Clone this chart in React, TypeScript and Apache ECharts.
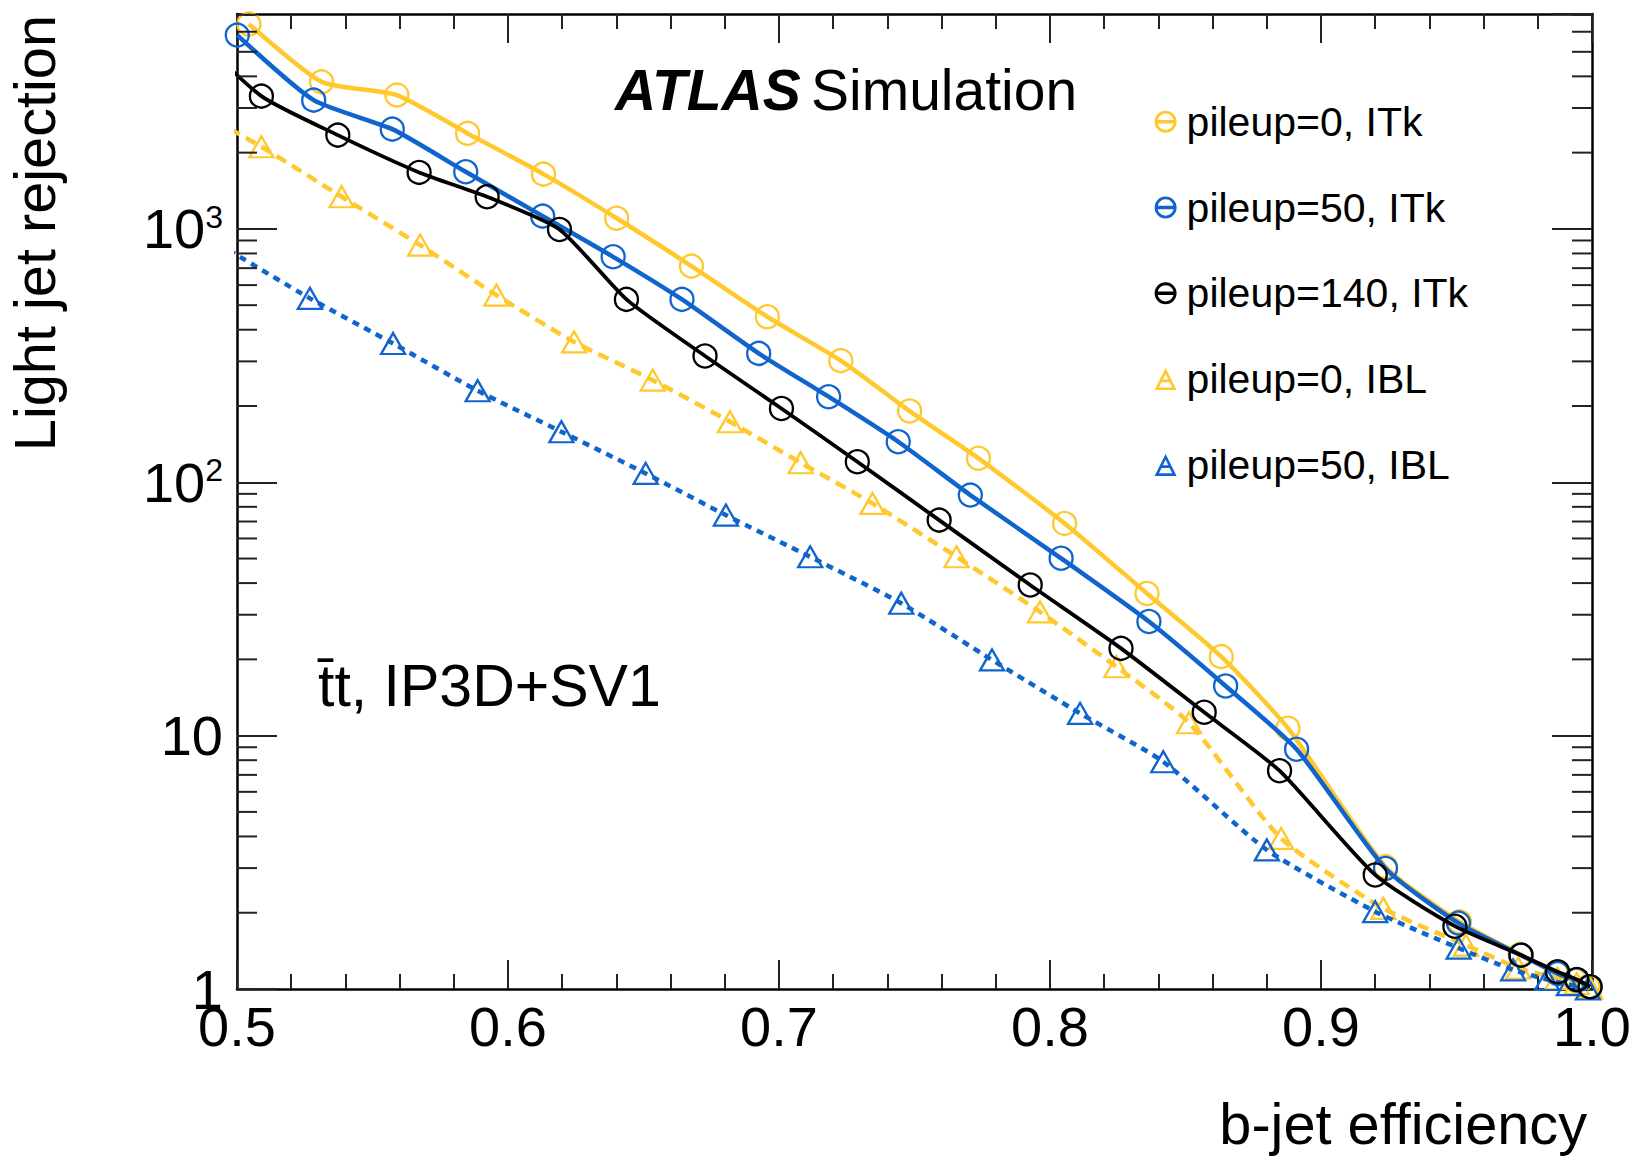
import React, { useEffect, useRef } from 'react';
import * as echarts from 'echarts';

// ---- data ----
const legendNames = ['pileup=0, ITk', 'pileup=50, ITk', 'pileup=140, ITk', 'pileup=0, IBL', 'pileup=50, IBL'];

const effITk0 = [0.5044, 0.5312, 0.559, 0.5851, 0.6131, 0.6401, 0.6677, 0.6957, 0.7228, 0.7482, 0.7736, 0.8054, 0.8358, 0.8632, 0.8878, 0.9238, 0.9511, 0.9735, 0.9868, 0.9938, 0.9985];
const rejITk0 = [6430, 3805, 3374, 2382, 1645, 1102, 713, 450, 302, 191, 124.3, 68.8, 36.4, 20.5, 10.7, 3.04, 1.84, 1.37, 1.16, 1.08, 1.02];

const effITk50 = [0.5001, 0.5283, 0.5573, 0.5844, 0.6128, 0.6388, 0.6642, 0.6925, 0.7183, 0.744, 0.7706, 0.8041, 0.8365, 0.8648, 0.891, 0.9238, 0.9507, 0.9738, 0.9873, 0.9944, 0.9993];
const rejITk50 = [5820, 3223, 2476, 1680, 1123, 776, 527, 322.6, 217.6, 144.5, 89, 50.1, 28.2, 15.7, 8.83, 2.99, 1.82, 1.36, 1.15, 1.085, 1.02];

const effITk140 = [0.481, 0.509, 0.5372, 0.5672, 0.5923, 0.619, 0.6437, 0.6727, 0.7009, 0.7289, 0.7591, 0.7927, 0.8262, 0.8569, 0.8847, 0.92, 0.9494, 0.9738, 0.9873, 0.9944, 0.9993];
const rejITk140 = [6370, 3342, 2345, 1671, 1339, 995, 527, 315, 195.6, 120.5, 70.9, 39.3, 22.1, 12.36, 7.27, 2.82, 1.77, 1.36, 1.17, 1.09, 1.02];

const effIBL0 = [0.48, 0.509, 0.5386, 0.5676, 0.5957, 0.6244, 0.6534, 0.6819, 0.708, 0.7345, 0.7655, 0.7963, 0.8245, 0.8513, 0.8853, 0.923, 0.9535, 0.9728, 0.9873, 0.9944, 0.9993];
const rejIBL0 = [3150, 2110, 1339, 863, 548, 358, 253, 173.3, 119.4, 82.5, 50.8, 30.8, 18.7, 11.24, 3.93, 2.08, 1.49, 1.21, 1.1, 1.05, 1.01];

const effIBL50 = [0.497, 0.5269, 0.5576, 0.5888, 0.6197, 0.6508, 0.6804, 0.7115, 0.7451, 0.7786, 0.8111, 0.8418, 0.88, 0.92, 0.9508, 0.9709, 0.9834, 0.9915, 0.9985];
const rejIBL50 = [824, 532, 353, 229.7, 158.3, 108.4, 74.2, 50.8, 33.3, 19.9, 12.24, 7.89, 3.54, 2.02, 1.45, 1.19, 1.09, 1.04, 1.0];

const yMinorTicks = [2, 3, 4, 5, 6, 7, 8, 9, 20, 30, 40, 50, 60, 70, 80, 90, 200, 300, 400, 500, 600, 700, 800, 900, 2000, 3000, 4000, 5000, 6000, 7000];

const X_MIN = 0.5;
const X_MAX = 1.0;
const Y_MIN = 1;
const Y_MAX = 7050;

// ---- styling ----
const FONT = "'Liberation Sans', Arial, Helvetica, sans-serif";
const YELLOW = '#FFC82D';
const BLUE = '#0F64CD';
const BLACK = '#000000';
const TICK = '#222222';
const TITLE_SIZE = 57.7;

const CIRCLE_ICON =
  'path://M0,50 A50,50 0 0,1 100,50 A50,50 0 0,1 0,50 Z M13,50 A37,37 0 0,0 87,50 A37,37 0 0,0 13,50 Z M13,42 L87,42 L87,58 L13,58 Z';
const TRIANGLE_ICON =
  'path://M50,0 L100,100 L0,100 Z M50,27 L20,88 L80,88 Z M24,52 L76,52 L76,64 L24,64 Z';

function makeLine(name: string, xs: number[], ys: number[], color: string, symbol: string, dash: any, width: number, z: number) {
  return {
    type: 'line',
    name,
    data: xs.map((x, i) => [x, ys[i]]),
    symbol,
    symbolSize: symbol === 'circle' ? 23 : [24, 21],
    showSymbol: true,
    smooth: 0.2,
    clip: true,
    z,
    lineStyle: { color, width, type: dash },
    itemStyle: { color: 'rgba(255,255,255,0)', borderColor: color, borderWidth: 2.3 },
    emphasis: { disabled: true },
  };
}

function yLabel(v: number) {
  const n = Math.round(Math.log10(v));
  if (Math.abs(Math.pow(10, n) - v) / v > 1e-6) return '';
  if (n === 0) return '1';
  if (n === 1) return '10';
  return '10{sup|' + n + '}';
}

const axisLineStyle = { color: BLACK, width: 2.5 };

const option: any = {
  animation: false,
  backgroundColor: '#ffffff',
  grid: { left: 237, right: 44, top: 14, bottom: 167, containLabel: false, outerBoundsMode: 'none' },
  xAxis: [
    {
      type: 'value',
      min: X_MIN,
      max: X_MAX,
      interval: 0.1,
      position: 'bottom',
      axisLine: { show: true, onZero: false, lineStyle: axisLineStyle },
      axisTick: { show: true, inside: true, length: 29, lineStyle: { color: TICK, width: 2 } },
      minorTick: { show: true, splitNumber: 5, length: 15, lineStyle: { color: TICK, width: 2 } },
      splitLine: { show: false },
      minorSplitLine: { show: false },
      axisLabel: {
        margin: 9,
        fontFamily: FONT,
        fontSize: 56,
        lineHeight: 56,
        color: BLACK,
        showMinLabel: true,
        showMaxLabel: true,
        formatter: (v: number) => v.toFixed(1),
      },
      name: 'b-jet efficiency',
      nameLocation: 'end',
      nameGap: -5,
      nameMoveOverlap: false,
      nameTextStyle: {
        fontFamily: FONT,
        fontSize: TITLE_SIZE,
        lineHeight: 56,
        color: BLACK,
        align: 'right',
        verticalAlign: 'top',
        padding: [106.5, 0, 0, 0],
      },
    },
    {
      type: 'value',
      min: X_MIN,
      max: X_MAX,
      interval: 0.1,
      position: 'top',
      axisLine: { show: true, onZero: false, lineStyle: axisLineStyle },
      axisTick: { show: true, inside: true, length: 29, lineStyle: { color: TICK, width: 2 } },
      minorTick: { show: true, splitNumber: 5, length: 15, lineStyle: { color: TICK, width: 2 } },
      splitLine: { show: false },
      axisLabel: { show: false },
    },
  ],
  yAxis: [
    {
      type: 'log',
      logBase: 10,
      min: Y_MIN,
      max: Y_MAX,
      position: 'left',
      axisLine: { show: true, lineStyle: axisLineStyle },
      axisTick: { show: true, inside: true, length: 40, lineStyle: { color: TICK, width: 2 } },
      minorTick: { show: false },
      splitLine: { show: false },
      axisLabel: {
        margin: 14,
        fontFamily: FONT,
        fontSize: 56,
        lineHeight: 56,
        color: BLACK,
        showMaxLabel: false,
        formatter: yLabel,
        rich: {
          sup: { fontFamily: FONT, fontSize: 32, lineHeight: 32, verticalAlign: 'top', color: BLACK },
        },
      },
      name: 'Light jet rejection',
      nameLocation: 'end',
      nameRotate: 90,
      nameGap: -1,
      nameMoveOverlap: false,
      nameTextStyle: {
        fontFamily: FONT,
        fontSize: TITLE_SIZE,
        lineHeight: 56,
        color: BLACK,
        align: 'right',
        verticalAlign: 'bottom',
        padding: [0, 0, 174, 0],
      },
    },
    {
      type: 'log',
      logBase: 10,
      min: Y_MIN,
      max: Y_MAX,
      position: 'right',
      axisLine: { show: true, lineStyle: axisLineStyle },
      axisTick: { show: true, inside: true, length: 40, lineStyle: { color: TICK, width: 2 } },
      minorTick: { show: false },
      splitLine: { show: false },
      axisLabel: { show: false },
    },
  ],
  legend: {
    orient: 'vertical',
    left: 1154.6,
    top: 98.7,
    padding: 0,
    itemGap: 39.8,
    itemWidth: 22,
    itemHeight: 22,
    selectedMode: false,
    textStyle: { fontFamily: FONT, fontSize: 41, lineHeight: 46, color: BLACK, padding: [0, 0, 0, 5] },
    data: [
      { name: legendNames[0], icon: CIRCLE_ICON, itemStyle: { color: YELLOW, borderWidth: 0 } },
      { name: legendNames[1], icon: CIRCLE_ICON, itemStyle: { color: BLUE, borderWidth: 0 } },
      { name: legendNames[2], icon: CIRCLE_ICON, itemStyle: { color: BLACK, borderWidth: 0 } },
      { name: legendNames[3], icon: TRIANGLE_ICON, itemStyle: { color: YELLOW, borderWidth: 0 } },
      { name: legendNames[4], icon: TRIANGLE_ICON, itemStyle: { color: BLUE, borderWidth: 0 } },
    ],
  },
  series: [
    makeLine(legendNames[0], effITk0, rejITk0, YELLOW, 'circle', 'solid', 4.5, 3),
    makeLine(legendNames[3], effIBL0, rejIBL0, YELLOW, 'triangle', [11, 7], 4.5, 3),
    makeLine(legendNames[4], effIBL50, rejIBL50, BLUE, 'triangle', [7, 6], 4.5, 4),
    makeLine(legendNames[1], effITk50, rejITk50, BLUE, 'circle', 'solid', 4.5, 5),
    makeLine(legendNames[2], effITk140, rejITk140, BLACK, 'circle', 'solid', 3.8, 6),
    {
      type: 'custom',
      name: 'y minor ticks',
      silent: true,
      clip: false,
      z: 8,
      xAxisIndex: 0,
      yAxisIndex: 0,
      data: yMinorTicks.map((v) => [X_MIN, v]),
      renderItem: (params: any, api: any) => {
        const v = api.value(1);
        const l = api.coord([X_MIN, v]);
        const r = api.coord([X_MAX, v]);
        const st = { stroke: TICK, lineWidth: 2 };
        return {
          type: 'group',
          children: [
            { type: 'line', shape: { x1: l[0], y1: l[1], x2: l[0] + 20, y2: l[1] }, style: st },
            { type: 'line', shape: { x1: r[0] - 20, y1: r[1], x2: r[0], y2: r[1] }, style: st },
          ],
        };
      },
    },
  ],
  graphic: [
    {
      type: 'text',
      x: 615,
      y: 90.3,
      style: { text: 'ATLAS', fontFamily: FONT, fontSize: 57, fontWeight: 'bold', fontStyle: 'italic', fill: BLACK, align: 'left', verticalAlign: 'middle' },
    },
    {
      type: 'text',
      x: 811,
      y: 90.3,
      style: { text: 'Simulation', fontFamily: FONT, fontSize: 57, fill: BLACK, align: 'left', verticalAlign: 'middle' },
    },
    {
      type: 'text',
      x: 318,
      y: 685.5,
      style: { text: 't\u0304t, IP3D+SV1', fontFamily: FONT, fontSize: 59, fill: BLACK, align: 'left', verticalAlign: 'middle' },
    },
  ],
};

export default function App() {
  const ref = useRef<HTMLDivElement>(null);
  useEffect(() => {
    if (!ref.current) return;
    const chart = echarts.init(ref.current, undefined, { renderer: 'svg', width: 1636, height: 1156 });
    chart.setOption(option);
    return () => chart.dispose();
  }, []);
  return (
    <div
      ref={ref}
      style={{ position: 'fixed', left: 0, top: 0, width: 1636, height: 1156, background: '#ffffff' }}
    />
  );
}
